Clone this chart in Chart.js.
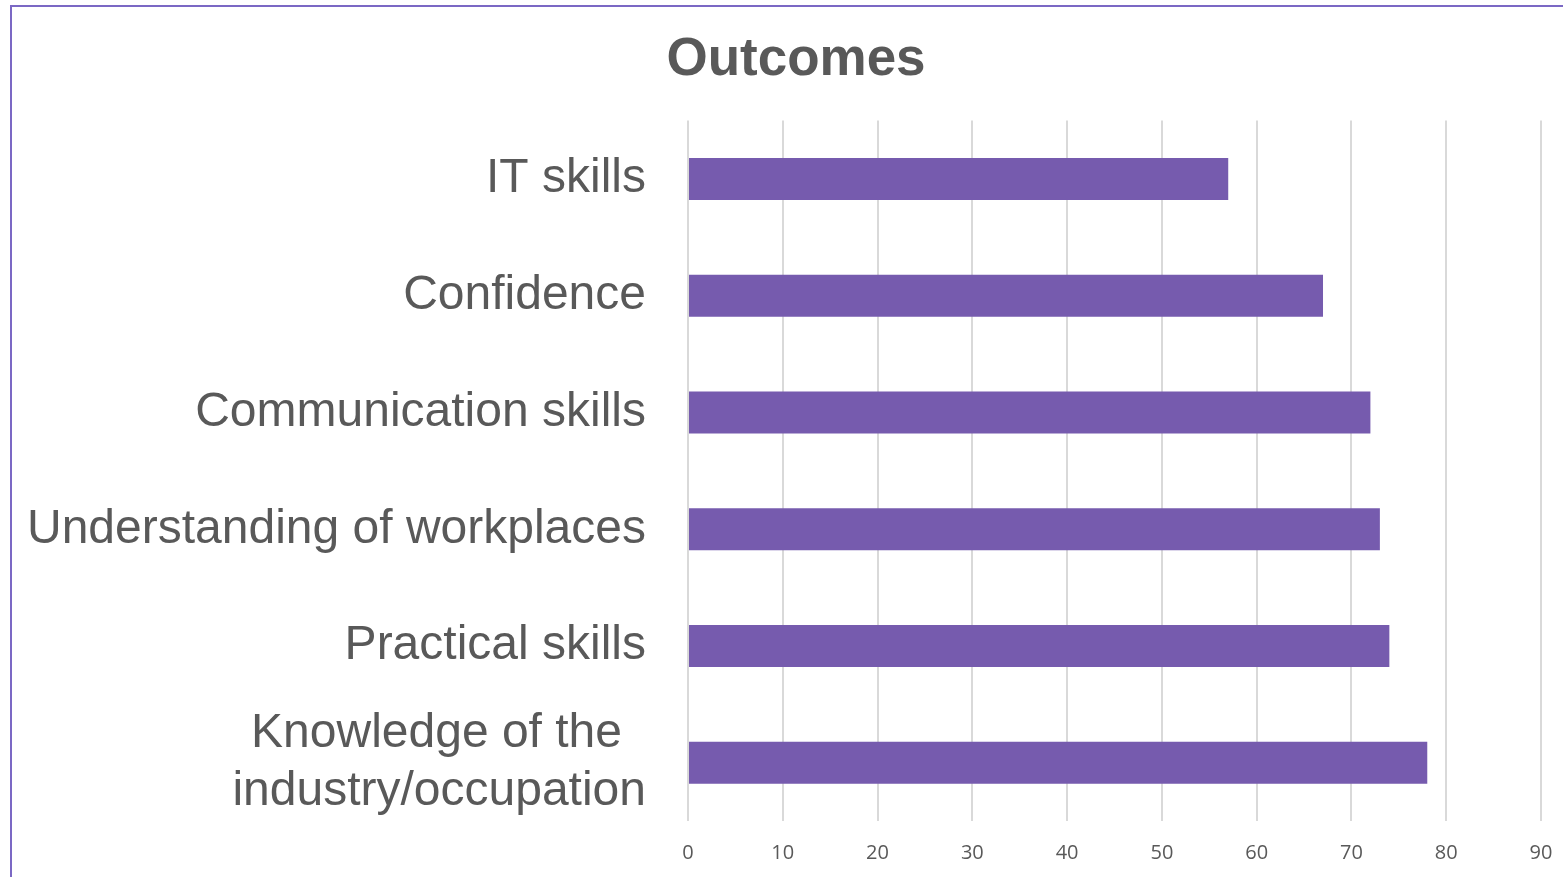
<!DOCTYPE html>
<html>
<head>
<meta charset="utf-8">
<script src="https://cdn.jsdelivr.net/npm/chart.js@4"></script>
<style>
  html, body { margin: 0; padding: 0; background: #fff; overflow: hidden; }
  #frame {
    position: absolute; left: 10px; top: 5px;
    width: 1568px; height: 900px;
    border: 2px solid #7b68c4;
  }
  #chartBox { position: absolute; left: 0; top: 0; width: 1568px; height: 885px; }
</style>
</head>
<body>
<div id="frame"><div id="chartBox"><canvas id="myChart"></canvas></div></div>
<script>
const categories = [
    "IT skills",
    "Confidence",
    "Communication skills",
    "Understanding of workplaces",
    "Practical skills",
    ["Knowledge of the\u2002", "industry/occupation"]
];
const outcomeValues = [57, 67, 72, 73, 74, 78];
const xTicks = [0, 10, 20, 30, 40, 50, 60, 70, 80, 90];

const textColor = "#595959";
const barColor = "#765bae";

// centre the title over the whole canvas, not only the padded area
const titleOverCanvas = {
    id: "titleOverCanvas",
    afterLayout: (chart) => {
        if (chart.titleBlock) {
            chart.titleBlock.left = 0;
            chart.titleBlock.right = chart.width;
        }
    }
};

new Chart("myChart", {
    type: "bar",
    data: {
        labels: categories,
        datasets: [{
            data: outcomeValues,
            backgroundColor: barColor,
            categoryPercentage: 1,
            barPercentage: 0.36
        }]
    },
    plugins: [titleOverCanvas],
    options: {
        indexAxis: "y",
        responsive: true,
        maintainAspectRatio: false,
        animation: false,
        layout: {
            padding: { left: 0, right: 39, top: 0, bottom: 0 }
        },
        plugins: {
            legend: { display: false },
            tooltip: { enabled: false },
            title: {
                display: true,
                text: "Outcomes",
                color: textColor,
                font: { family: "'Liberation Sans', Arial, sans-serif", size: 53, weight: "bold", lineHeight: 1.2 },
                padding: { top: 22, bottom: 28 }
            }
        },
        scales: {
            x: {
                min: xTicks[0],
                max: xTicks[xTicks.length - 1],
                afterBuildTicks: (scale) => {
                    scale.ticks = xTicks.map(v => ({ value: v }));
                },
                grid: { color: "#d9d9d9", lineWidth: 2, drawTicks: false },
                border: { display: false },
                ticks: {
                    color: textColor,
                    padding: 20,
                    maxRotation: 0,
                    autoSkip: false,
                    font: { family: "'Open Sans', 'Noto Sans', sans-serif", size: 20 }
                }
            },
            y: {
                grid: { display: false, drawTicks: false },
                border: { display: false },
                afterFit: (scale) => {
                    scale.width = 676;
                },
                ticks: {
                    color: textColor,
                    padding: 42,
                    autoSkip: false,
                    font: { family: "'Liberation Sans', Arial, sans-serif", size: 48, lineHeight: 1.2 }
                }
            }
        }
    }
});
</script>
</body>
</html>
